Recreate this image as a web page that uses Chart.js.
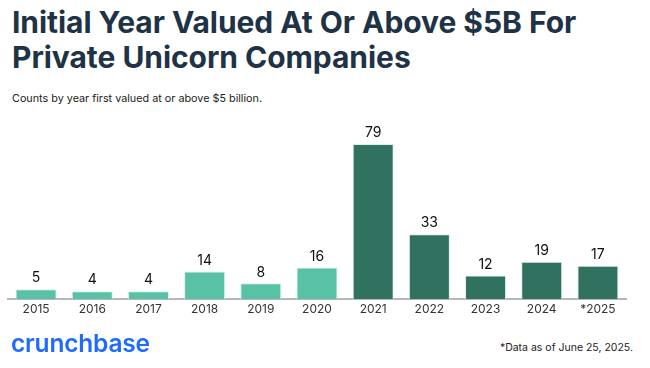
<!DOCTYPE html>
<html lang="en">
<head>
<meta charset="UTF-8">
<title>Unicorns valued at $5B+</title>
<script src="https://cdn.jsdelivr.net/npm/chart.js"></script>
<style>
  * { box-sizing: border-box; }
  body {
    margin: 0;
    width: 650px;
    height: 368px;
    background: #fff;
    font-family: Inter, "Noto Sans", Arial, sans-serif;
    position: relative;
    overflow: hidden;
  }
  /* Title block */
  .title {
    position: absolute;
    left: 12px;
    top: 5px;
    margin: 0;
    font-size: 30px;
    line-height: 35px;
    font-weight: 700;
    color: #1f3347;
    letter-spacing: -0.05px;
  }
  .sub {
    position: absolute;
    left: 12px;
    top: 92px;
    font-size: 10.8px;
    color: #222;
  }
  .chart-box {
    position: absolute;
    left: 0;
    top: 103px;
    width: 650px;
    height: 230px;
  }
  .logo {
    position: absolute;
    left: 11px;
    top: 328px;
    font-size: 24.5px;
    font-weight: 600;
    color: #1f6bff;
    letter-spacing: -0.2px;
  }
  .note {
    position: absolute;
    right: 17px;
    top: 341px;
    font-size: 10.5px;
    color: #222;
  }
</style>
</head>
<body>
  <h1 class="title">Initial Year Valued At Or Above $5B For<br>Private Unicorn Companies</h1>
  <div class="sub">Counts by year first valued at or above $5 billion.</div>
  <div class="chart-box"><canvas id="myChart"></canvas></div>
  <div class="logo">crunchbase</div>
  <div class="note">*Data as of June 25, 2025.</div>

<script>
  // chart data
  const years = ['2015', '2016', '2017', '2018', '2019', '2020', '2021', '2022', '2023', '2024', '*2025'];
  const counts = [5, 4, 4, 14, 8, 16, 79, 33, 12, 19, 17];
  const lightYears = 6; // first six years in light teal

  const barColors = counts.map((_, i) => i < lightYears ? '#58c1a6' : '#30725f');

  // write the count above each bar
  const valueLabels = {
    id: 'valueLabels',
    afterDatasetsDraw(chart) {
      const ctx = chart.ctx;
      const meta = chart.getDatasetMeta(0);
      ctx.save();
      ctx.font = '14px Inter, "Noto Sans", sans-serif';
      ctx.fillStyle = '#111';
      ctx.textAlign = 'center';
      ctx.textBaseline = 'bottom';
      meta.data.forEach((bar, i) => {
        ctx.fillText(chart.data.datasets[0].data[i], bar.x, bar.y - 4);
      });
      ctx.restore();
    }
  };

  const ctx = document.getElementById('myChart').getContext('2d');
  const myChart = new Chart(ctx, {
    type: 'bar',
    data: {
      labels: years,
      datasets: [{
        data: counts,
        backgroundColor: barColors,
        borderColor: '#d9efe8',
        borderWidth: 1,
        categoryPercentage: 1,
        barPercentage: 0.73
      }]
    },
    options: {
      responsive: true,
      maintainAspectRatio: false,
      animation: false,
      layout: {
        padding: { left: 8, right: 24, top: 30, bottom: 13.6 }
      },
      plugins: {
        legend: { display: false },
        tooltip: { enabled: false }
      },
      scales: {
        x: {
          grid: { display: false, drawTicks: false },
          border: { color: '#b4b8bd', width: 2 },
          ticks: {
            color: '#333',
            padding: 3,
            font: { size: 12, family: 'Inter, "Noto Sans", sans-serif' }
          }
        },
        y: {
          display: false,
          min: 0,
          max: 84.6
        }
      }
    },
    plugins: [valueLabels]
  });
</script>
</body>
</html>
